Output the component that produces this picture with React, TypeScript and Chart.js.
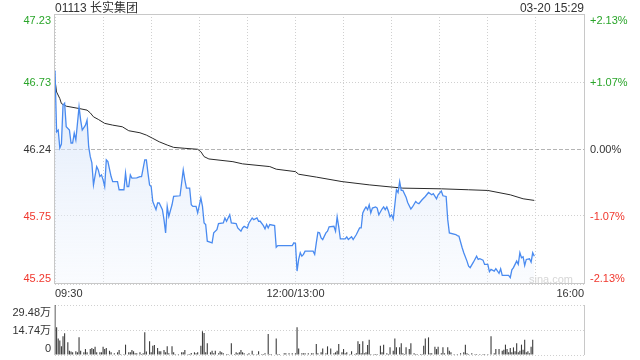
import React, { useEffect, useRef } from "react";
import { Chart, registerables } from "chart.js";

Chart.register(...registerables);

// ---------- text ----------
const TITLE = "01113 长实集团";
const STAMP = "03-20 15:29";
const WATERMARK = "sina.com";

// ---------- price axis ----------
const PREV_CLOSE = 46.24;
const PRICE_MIN = 45.25;
const PRICE_MAX = 47.23;
const priceTickValues = [47.23, 46.73, 46.24, 45.75, 45.25];
const priceTickLabels = ["47.23", "46.73", "46.24", "45.75", "45.25"];
const pctTickLabels = ["+2.13%", "+1.07%", "0.00%", "-1.07%", "-2.13%"];

// ---------- time axis (minutes from 09:30, lunch removed) ----------
const TOTAL_MINUTES = 330;
const timeGridMinutes = [0, 30, 60, 90, 120, 150, 180, 210, 240, 270, 300, 330];
const timeLabelMinutes = [0, 150, 330];
const timeLabels = ["09:30", "12:00/13:00", "16:00"];

// ---------- last price ----------
const priceMinutes = [
  0, 1, 2, 3, 4, 5, 6, 7, 9, 10,
  11, 12, 13, 15, 16, 17, 19, 20, 21, 22,
  23, 24, 26, 27, 28, 29, 30, 31, 32, 33,
  35, 36, 39, 40, 43, 44, 45, 46, 47, 48,
  51, 53, 54, 56, 57, 58, 59, 60, 61, 63,
  64, 65, 67, 68, 69, 70, 71, 73, 74, 78,
  80, 81, 82, 84, 85, 86, 88, 89, 91, 92,
  93, 94, 95, 98, 99, 101, 102, 105, 106, 107,
  109, 110, 113, 114, 116, 117, 118, 120, 121, 123,
  124, 126, 127, 128, 130, 131, 132, 133, 134, 137,
  138, 139, 148, 149, 150, 151, 152, 153, 154, 155,
  156, 161, 162, 163, 164, 165, 166, 167, 169, 170,
  171, 174, 175, 176, 177, 178, 181, 182, 183, 185,
  186, 188, 190, 191, 192, 193, 194, 195, 196, 197,
  198, 200, 201, 202, 204, 205, 206, 207, 208, 209,
  210, 211, 212, 213, 214, 215, 216, 217, 219, 220,
  222, 223, 225, 226, 227, 229, 231, 233, 235, 236,
  238, 239, 241, 242, 244, 245, 246, 250, 251, 252,
  254, 255, 257, 258, 259, 261, 263, 264, 265, 267,
  268, 270, 271, 272, 274, 275, 277, 278, 279, 283,
  284, 285, 286, 288, 289, 290, 291, 292, 293, 294,
  296, 297, 298, 299,
];
const prices = [
  46.816, 46.366, 46.379, 46.247, 46.276, 46.561, 46.576, 46.403, 46.379, 46.284,
  46.284, 46.357, 46.306, 46.549, 46.452, 46.379, 46.415, 46.452, 46.257, 46.184,
  46.138, 45.977, 46.111, 46.087, 46.038, 46.05, 46.014, 45.965, 46.16, 46.147,
  46.038, 46.001, 46.001, 45.941, 45.941, 46.063, 45.965, 45.965, 46.05, 46.026,
  46.028, 46.038, 46.038, 46.16, 46.16, 46.063, 45.977, 45.965, 45.855, 45.795,
  45.844, 45.844, 45.795, 45.722, 45.625, 45.819, 45.746, 45.831, 45.892, 45.897,
  46.087, 46.014, 45.953, 45.953, 45.831, 45.819, 45.819, 45.771, 45.88, 45.819,
  45.698, 45.686, 45.564, 45.552, 45.625, 45.649, 45.693, 45.698, 45.734, 45.71,
  45.758, 45.698, 45.693, 45.661, 45.637, 45.661, 45.673, 45.661, 45.698, 45.734,
  45.722, 45.734, 45.71, 45.71, 45.678, 45.654, 45.686, 45.661, 45.686, 45.678,
  45.52, 45.532, 45.532, 45.552, 45.547, 45.345, 45.43, 45.479, 45.454, 45.467,
  45.491, 45.491, 45.467, 45.552, 45.629, 45.625, 45.588, 45.576, 45.625, 45.637,
  45.669, 45.673, 45.637, 45.742, 45.669, 45.581, 45.581, 45.596, 45.576, 45.596,
  45.576, 45.613, 45.661, 45.661, 45.771, 45.795, 45.815, 45.795, 45.831, 45.771,
  45.807, 45.815, 45.807, 45.758, 45.8, 45.815, 45.795, 45.815, 45.783, 45.742,
  45.758, 45.727, 45.831, 45.941, 45.921, 46.001, 45.936, 45.936, 45.887, 45.848,
  45.8, 45.815, 45.855, 45.844, 45.839, 45.868, 45.892, 45.921, 45.904, 45.912,
  45.875, 45.904, 45.931, 45.897, 45.892, 45.722, 45.625, 45.613, 45.605, 45.6,
  45.516, 45.479, 45.418, 45.381, 45.37, 45.41, 45.454, 45.43, 45.435, 45.425,
  45.394, 45.394, 45.34, 45.357, 45.345, 45.362, 45.328, 45.362, 45.313, 45.313,
  45.297, 45.354, 45.37, 45.418, 45.394, 45.479, 45.442, 45.45, 45.386, 45.43,
  45.435, 45.41, 45.479, 45.454,
];

// ---------- average price ----------
const avgMinutes = [
  0, 1, 3, 4, 7, 15, 20, 22, 24, 27,
  31, 36, 42, 46, 53, 57, 61, 65, 70, 74,
  81, 89, 91, 93, 96, 111, 117, 134, 138, 150,
  152, 163, 179, 196, 217, 241, 258, 270, 284, 292,
  299,
];
const avgPrices = [
  46.745, 46.658, 46.61, 46.573, 46.554, 46.537, 46.525, 46.505, 46.476, 46.457,
  46.428, 46.415, 46.403, 46.374, 46.359, 46.342, 46.318, 46.293, 46.269, 46.252,
  46.245, 46.238, 46.22, 46.184, 46.167, 46.147, 46.131, 46.111, 46.092, 46.074,
  46.055, 46.034, 46.001, 45.977, 45.953, 45.948, 45.941, 45.936, 45.904, 45.875,
  45.863,
];

// ---------- volume (万) ----------
const VOL_MAX = 29.48;
const volTickValues = [29.48, 14.74, 0];
const volTickLabels = ["29.48万", "14.74万", "0"];
const volMinutes = [
  0, 1, 2, 3, 4, 5, 6, 8, 9, 10,
  11, 13, 14, 15, 16, 18, 19, 20, 22, 23,
  24, 25, 26, 28, 29, 30, 31, 32, 34, 35,
  37, 39, 40, 41, 43, 44, 46, 47, 48, 49,
  50, 51, 53, 54, 55, 56, 57, 59, 60, 61,
  62, 64, 65, 66, 68, 69, 70, 71, 73, 74,
  75, 77, 79, 80, 81, 83, 84, 85, 87, 88,
  89, 91, 92, 93, 94, 95, 97, 98, 99, 100,
  102, 103, 104, 105, 107, 108, 110, 112, 113, 114,
  115, 116, 117, 118, 120, 121, 123, 124, 126, 127,
  129, 130, 131, 133, 134, 135, 138, 139, 140, 143,
  144, 146, 148, 150, 151, 152, 154, 155, 156, 158,
  160, 161, 163, 164, 166, 167, 169, 170, 172, 174,
  175, 176, 177, 179, 180, 181, 182, 184, 185, 187,
  188, 189, 190, 191, 192, 193, 194, 195, 196, 197,
  199, 200, 201, 203, 204, 205, 207, 208, 209, 211,
  212, 213, 215, 216, 217, 218, 219, 221, 222, 224,
  225, 226, 228, 229, 230, 231, 233, 234, 235, 237,
  238, 239, 241, 242, 243, 245, 246, 247, 249, 251,
  253, 255, 256, 257, 258, 260, 262, 263, 265, 267,
  268, 270, 272, 274, 275, 277, 279, 280, 281, 282,
  283, 284, 285, 286, 287, 288, 289, 290, 291, 292,
  293, 294, 295, 296, 297, 298,
];
const volValues = [
  29.48, 16.3, 9.8, 8.5, 5.1, 11.0, 12.8, 7.5, 2.5, 2.0,
  1.6, 2.2, 1.6, 10.4, 2.5, 1.6, 3.5, 1.6, 3.5, 4.1,
  3.5, 4.9, 1.6, 1.6, 1.6, 4.9, 3.5, 4.1, 2.5, 1.6,
  1.0, 1.6, 2.9, 0.6, 0.6, 6.1, 1.6, 1.6, 2.9, 2.2,
  1.0, 1.0, 1.6, 0.6, 1.0, 13.4, 2.0, 8.1, 1.6, 5.5,
  5.9, 4.1, 2.2, 2.2, 2.9, 1.6, 5.1, 1.0, 5.1, 1.6,
  0.6, 0.6, 1.6, 1.6, 2.9, 0.6, 0.6, 1.2, 1.6, 1.0,
  1.6, 5.5, 14.0, 13.0, 1.6, 6.9, 1.6, 2.5, 1.0, 2.5,
  1.0, 2.2, 1.6, 1.0, 0.6, 0.6, 6.9, 0.6, 1.6, 1.0,
  1.6, 2.9, 1.6, 1.0, 0.6, 1.0, 2.5, 0.6, 0.6, 2.2,
  0.6, 0.6, 1.0, 12.4, 0.6, 0.6, 9.8, 0.6, 0.6, 1.0,
  1.0, 1.0, 1.0, 1.0, 16.3, 3.9, 1.0, 1.0, 1.0, 1.0,
  1.0, 1.0, 6.5, 1.0, 1.6, 3.9, 1.0, 5.1, 3.9, 1.0,
  1.6, 2.5, 6.5, 1.6, 3.5, 1.0, 1.6, 0.6, 2.2, 0.6,
  1.0, 8.1, 6.5, 1.0, 8.1, 1.0, 1.6, 5.9, 9.0, 0.6,
  0.6, 0.6, 0.6, 5.5, 1.6, 6.1, 1.0, 0.6, 4.5, 2.5,
  9.8, 4.5, 4.5, 6.9, 1.0, 0.6, 4.5, 3.5, 6.9, 1.0,
  0.6, 0.6, 0.6, 0.6, 5.5, 9.8, 10.4, 1.0, 1.0, 4.9,
  3.5, 4.9, 1.0, 4.5, 1.0, 4.5, 2.5, 1.6, 0.6, 0.6,
  1.0, 1.6, 6.1, 1.0, 0.6, 1.0, 0.6, 0.6, 0.6, 0.6,
  0.6, 0.6, 11.0, 1.0, 3.5, 3.5, 2.5, 3.1, 6.1, 3.5,
  1.6, 4.1, 1.6, 4.5, 2.2, 6.9, 1.6, 2.5, 6.1, 3.1,
  9.0, 1.6, 2.2, 1.0, 4.9, 9.0,
];

// ---------- styles ----------
const FONT = '"Liberation Sans", Arial, "Noto Sans CJK SC", sans-serif';
const GREEN = "#2aa52a";
const RED = "#f0372d";
const TEXT = "#333333";
const GRID = "#d0d0d0";
const FRAME = "#c8c8c8";

const W = 640;
const PRICE_H = 300;
const VOL_H = 60;

function App() {
  const priceRef = useRef<HTMLCanvasElement | null>(null);
  const volRef = useRef<HTMLCanvasElement | null>(null);

  useEffect(() => {
    if (!priceRef.current || !volRef.current) return;

    const pricePoints = priceMinutes.map((m, i) => ({ x: m, y: prices[i] }));
    const avgPoints = avgMinutes.map((m, i) => ({ x: m, y: avgPrices[i] }));
    const volPoints = volMinutes.map((m, i) => ({ x: m, y: volValues[i] }));

    const priceDecor = {
      id: "priceDecor",
      beforeDatasetsDraw(chart: any) {
        const { ctx, chartArea: a, scales } = chart;
        const yMid = Math.round(scales.y.getPixelForValue(PREV_CLOSE)) + 0.5;
        ctx.save();
        ctx.strokeStyle = "#b4b4b4";
        ctx.lineWidth = 1;
        ctx.setLineDash([4, 2]);
        ctx.beginPath();
        ctx.moveTo(a.left, yMid);
        ctx.lineTo(a.right, yMid);
        ctx.stroke();
        ctx.restore();
      },
      afterDraw(chart: any) {
        const { ctx, chartArea: a, scales } = chart;
        const x = scales.x;
        const y = scales.y;
        ctx.save();
        // frame
        ctx.strokeStyle = FRAME;
        ctx.lineWidth = 1;
        ctx.strokeRect(Math.round(a.left) - 0.5, Math.round(a.top) + 0.5, Math.round(a.right - a.left) + 1, Math.round(a.bottom - a.top) - 1);

        // price / percent labels
        ctx.font = `11px ${FONT}`;
        ctx.textBaseline = "alphabetic";
        priceTickValues.forEach((v, i) => {
          let cy = y.getPixelForValue(v);
          cy = Math.min(Math.max(cy, a.top + 6), a.bottom - 6);
          const col = v > PREV_CLOSE + 1e-6 ? GREEN : v < PREV_CLOSE - 1e-6 ? RED : TEXT;
          ctx.fillStyle = col;
          ctx.textAlign = "right";
          ctx.fillText(priceTickLabels[i], a.left - 4, cy + 4);
          ctx.textAlign = "left";
          ctx.fillText(pctTickLabels[i], a.right + 6, cy + 4);
        });

        // time labels
        ctx.fillStyle = TEXT;
        timeLabelMinutes.forEach((m, i) => {
          const px = x.getPixelForValue(m);
          ctx.textAlign = i === 0 ? "left" : i === timeLabelMinutes.length - 1 ? "right" : "center";
          ctx.fillText(timeLabels[i], px, a.bottom + 13);
        });

        // title and stamp
        ctx.font = `12px ${FONT}`;
        ctx.textAlign = "left";
        ctx.fillText(TITLE, a.left, 11.5);
        ctx.textAlign = "right";
        ctx.fillText(STAMP, a.right, 11.5);

        // watermark
        ctx.font = `11px ${FONT}`;
        ctx.fillStyle = "#d6d6d6";
        ctx.textAlign = "right";
        ctx.fillText(WATERMARK, a.right - 11, a.bottom - 1);
        ctx.restore();
      },
    };

    const priceChart = new Chart(priceRef.current, {
      type: "line",
      data: {
        datasets: [
          {
            data: pricePoints,
            borderColor: "#4a8bf0",
            borderWidth: 1.3,
            pointRadius: 0,
            tension: 0,
            fill: "start",
            backgroundColor: (c: any) => {
              const chart = c.chart;
              const area = chart.chartArea;
              if (!area) return "rgba(220,232,250,0.5)";
              const g = chart.ctx.createLinearGradient(0, area.top, 0, area.bottom);
              g.addColorStop(0, "rgba(196,216,247,0.75)");
              g.addColorStop(1, "rgba(240,245,253,0.35)");
              return g;
            },
          },
          {
            data: avgPoints,
            borderColor: "#2a2a2a",
            borderWidth: 1,
            pointRadius: 0,
            tension: 0,
            fill: false,
          },
        ],
      },
      options: {
        responsive: false,
        animation: false,
        events: [],
        layout: { padding: { left: 55, right: 56, top: 14, bottom: 16 } },
        plugins: { legend: { display: false }, tooltip: { enabled: false } },
        scales: {
          x: {
            type: "linear",
            min: 0,
            max: TOTAL_MINUTES,
            afterBuildTicks: (s: any) => {
              s.ticks = timeGridMinutes.map((v) => ({ value: v }));
            },
            ticks: { display: false },
            grid: { color: GRID, drawTicks: false, lineWidth: 1 },
            border: { display: false, dash: [1, 2] },
          },
          y: {
            type: "linear",
            min: PRICE_MIN,
            max: PRICE_MAX,
            afterBuildTicks: (s: any) => {
              s.ticks = priceTickValues.map((v) => ({ value: v }));
            },
            ticks: { display: false },
            grid: {
              color: (c: any) =>
                c.tick && Math.abs(c.tick.value - PREV_CLOSE) < 1e-6 ? "rgba(0,0,0,0)" : GRID,
              drawTicks: false,
              lineWidth: 1,
            },
            border: { display: false, dash: [1, 2] },
          },
        },
      },
      plugins: [priceDecor],
    } as any);

    const volDecor = {
      id: "volDecor",
      afterDraw(chart: any) {
        const { ctx, chartArea: a, scales } = chart;
        const y = scales.y;
        ctx.save();
        ctx.strokeStyle = FRAME;
        ctx.lineWidth = 1;
        ctx.beginPath();
        ctx.moveTo(Math.round(a.left) - 0.5, a.top);
        ctx.lineTo(Math.round(a.left) - 0.5, a.bottom);
        ctx.moveTo(Math.round(a.right) + 0.5, a.top);
        ctx.lineTo(Math.round(a.right) + 0.5, a.bottom);
        ctx.stroke();

        ctx.font = `11px ${FONT}`;
        ctx.fillStyle = TEXT;
        ctx.textAlign = "right";
        ctx.textBaseline = "alphabetic";
        volTickValues.forEach((v, i) => {
          let cy = y.getPixelForValue(v);
          cy = Math.min(Math.max(cy, a.top + 7), a.bottom - 7);
          ctx.fillText(volTickLabels[i], a.left - 4, cy + 4);
        });
        ctx.restore();
      },
    };

    const volChart = new Chart(volRef.current, {
      type: "bar",
      data: {
        datasets: [
          {
            data: volPoints,
            backgroundColor: "#3c3c3c",
            borderWidth: 0,
            barThickness: 1.1,
            inflateAmount: 0,
          },
        ],
      },
      options: {
        responsive: false,
        animation: false,
        events: [],
        layout: { padding: { left: 55, right: 56, top: 5, bottom: 5 } },
        plugins: { legend: { display: false }, tooltip: { enabled: false } },
        scales: {
          x: {
            type: "linear",
            min: 0,
            max: TOTAL_MINUTES,
            offset: false,
            ticks: { display: false },
            grid: { display: false, drawTicks: false },
            border: { display: false },
          },
          y: {
            type: "linear",
            min: 0,
            max: VOL_MAX,
            afterBuildTicks: (s: any) => {
              s.ticks = volTickValues.map((v) => ({ value: v }));
            },
            ticks: { display: false },
            grid: { color: GRID, drawTicks: false, lineWidth: 1 },
            border: { display: false, dash: [1, 2] },
          },
        },
      },
      plugins: [volDecor],
    } as any);

    return () => {
      priceChart.destroy();
      volChart.destroy();
    };
  }, []);

  return (
    <div
      style={{
        position: "absolute",
        left: 0,
        top: 0,
        width: W,
        height: PRICE_H + VOL_H,
        background: "#ffffff",
      }}
    >
      <canvas
        ref={priceRef}
        width={W}
        height={PRICE_H}
        style={{ position: "absolute", left: 0, top: 0, width: W, height: PRICE_H }}
      />
      <canvas
        ref={volRef}
        width={W}
        height={VOL_H}
        style={{ position: "absolute", left: 0, top: PRICE_H, width: W, height: VOL_H }}
      />
    </div>
  );
}

export default App;
